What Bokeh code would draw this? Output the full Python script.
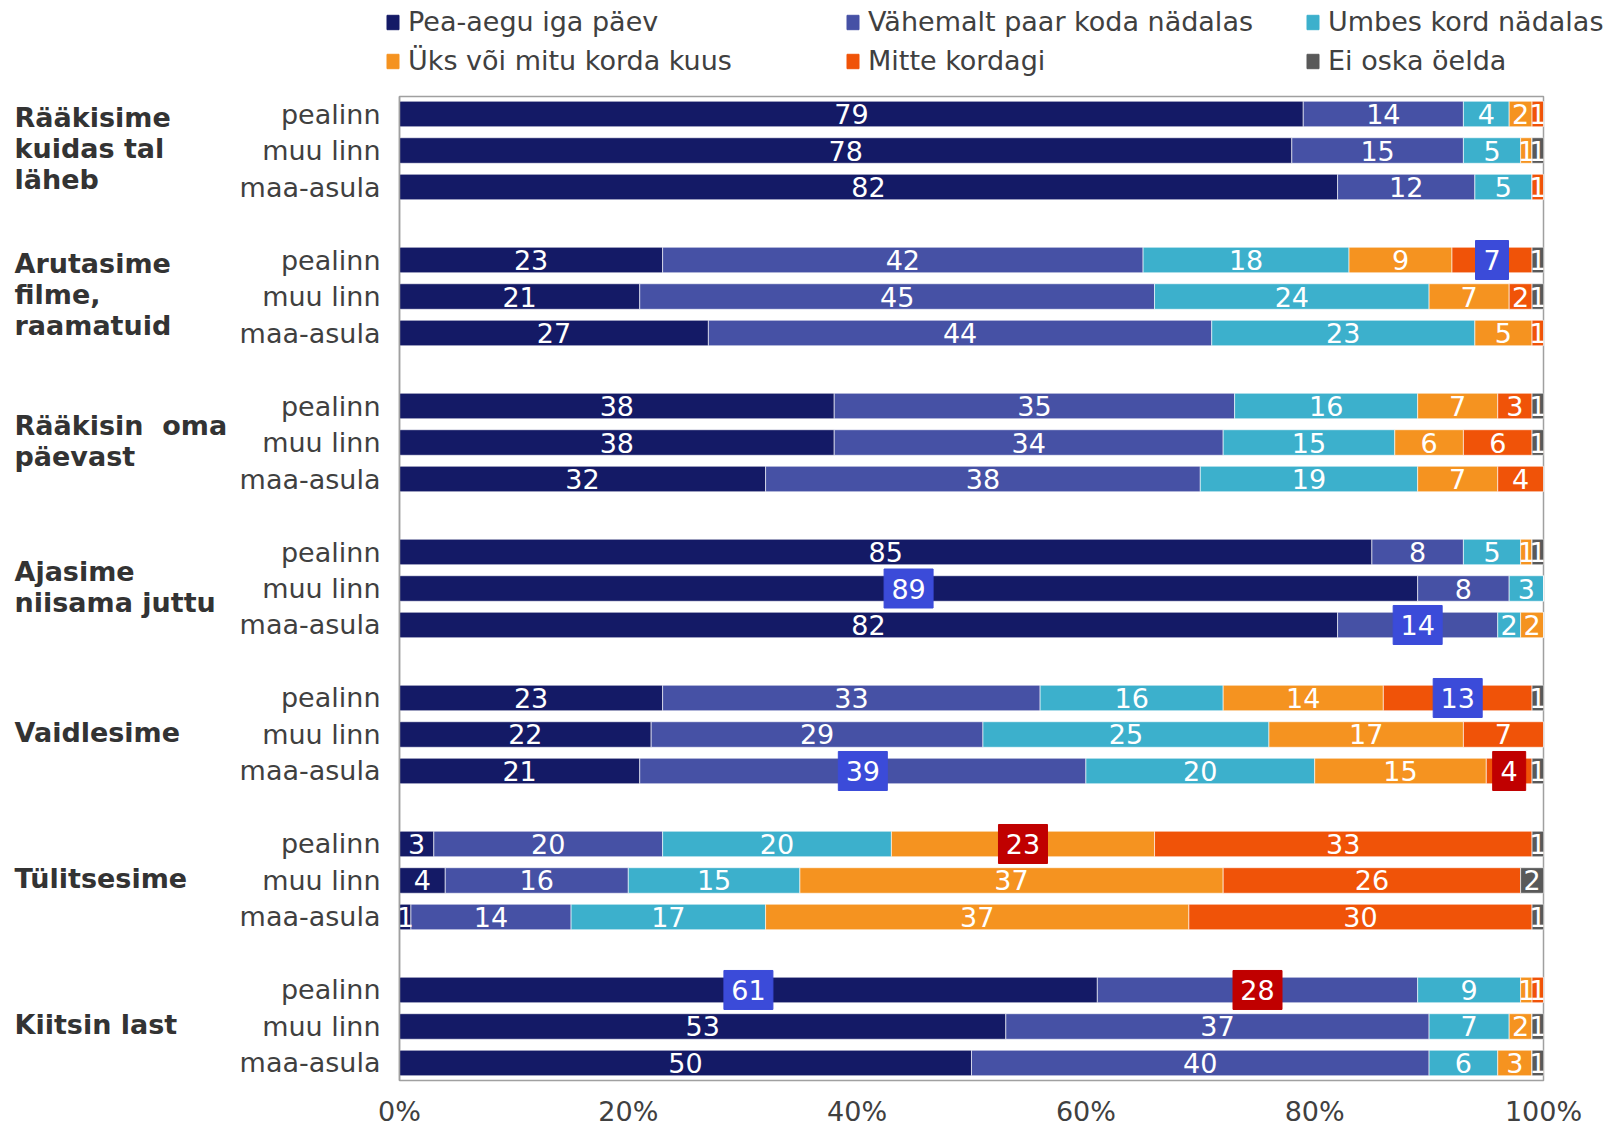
from bokeh.plotting import figure
from bokeh.layouts import row, column
from bokeh.models import (ColumnDataSource, Range1d, FixedTicker, Legend, LegendItem,
                          PrintfTickFormatter)
from bokeh.core.properties import value
from bokeh.embed import file_html
from bokeh.resources import INLINE

FONT = "DejaVu Sans"
FS = "27px"

groups = ["Rääkisime\nkuidas tal\nläheb", "Arutasime\nfilme,\nraamatuid",
          "Rääkisin\u00a0 oma\npäevast", "Ajasime\nniisama juttu", "Vaidlesime",
          "Tülitsesime", "Kiitsin last"]
places = ["pealinn", "muu linn", "maa-asula"]
series = ["Pea-aegu iga päev", "Vähemalt paar koda nädalas", "Umbes kord nädalas",
          "Üks või mitu korda kuus", "Mitte kordagi", "Ei oska öelda"]
colors = ["#141a66", "#4651a5", "#3cb0cc", "#f59320", "#f05308", "#595959"]

# rows: each group x (pealinn, muu linn, maa-asula)
pea   = [79, 78, 82, 23, 21, 27, 38, 38, 32, 85, 89, 82, 23, 22, 21, 3, 4, 1, 61, 53, 50]
vah   = [14, 15, 12, 42, 45, 44, 35, 34, 38, 8, 8, 14, 33, 29, 39, 20, 16, 14, 28, 37, 40]
umb   = [4, 5, 5, 18, 24, 23, 16, 15, 19, 5, 3, 2, 16, 25, 20, 20, 15, 17, 9, 7, 6]
uks   = [2, 1, 0, 9, 7, 5, 7, 6, 7, 1, 0, 2, 14, 17, 15, 23, 37, 37, 1, 2, 3]
mitte = [1, 0, 1, 7, 2, 1, 3, 6, 4, 0, 0, 0, 13, 7, 4, 33, 26, 30, 1, 0, 0]
ei    = [0, 1, 0, 1, 1, 0, 1, 1, 0, 1, 0, 0, 1, 0, 1, 1, 2, 1, 0, 1, 1]

# highlighted value labels: row index, series index, box colour
hl_rows   = [3, 10, 11, 12, 14, 14, 15, 18, 18]
hl_series = [4, 0, 1, 4, 1, 4, 3, 0, 1]
hl_colors = ["#3b4bd9", "#3b4bd9", "#3b4bd9", "#3b4bd9", "#3b4bd9", "#c00000",
             "#c00000", "#3b4bd9", "#c00000"]

data_cols = [pea, vah, umb, uks, mitte, ei]
keys = ["s0", "s1", "s2", "s3", "s4", "s5"]
n = len(pea)
ys = [(i // 3) * 4 + i % 3 for i in range(n)]

src = ColumnDataSource(dict(y=ys, **{k: c for k, c in zip(keys, data_cols)}))

LEGH = 80
H = 1132 - LEGH
TOP = 96 - LEGH
BOT = 52
LEFTW = 236
W = 1600
yr = Range1d(26.48, -0.48)

p = figure(width=W - LEFTW, height=H, output_backend="svg", toolbar_location=None,
           x_range=Range1d(0, 100), y_range=yr,
           min_border_left=399 - LEFTW, min_border_right=57, min_border_top=TOP,
           min_border_bottom=BOT)
p.outline_line_color = "#a0a0a0"
p.outline_line_width = 1.5
p.xgrid.visible = False
p.ygrid.visible = False

rends = p.hbar_stack(keys, y="y", height=0.7, color=colors, source=src,
                     line_color="white", line_width=1, line_alpha=0.6)

# value labels
lx, ly, lt = [], [], []
for i in range(n):
    cum = 0
    for s in range(6):
        v = data_cols[s][i]
        if v > 0:
            lx.append(cum + v / 2)
            ly.append(ys[i])
            lt.append(str(v))
        cum += v

# highlight boxes
hx, hy, hw = [], [], []
for r, s in zip(hl_rows, hl_series):
    start = sum(data_cols[k][r] for k in range(s))
    v = data_cols[s][r]
    hx.append(start + v / 2)
    hy.append(ys[r])
    hw.append(17 + 16 * len(str(v)))
p.rect(x=hx, y=hy, width=hw, height=[39] * len(hx), width_units="screen",
       height_units="screen", color=hl_colors)

p.text(x=lx, y=ly, text=lt, text_color="white", text_font=value(FONT),
       text_font_size=FS, text_align="center", text_baseline="middle")

# axes
p.yaxis.ticker = FixedTicker(ticks=ys)
p.yaxis.major_label_overrides = {y: places[i % 3] for i, y in enumerate(ys)}
p.yaxis.major_label_text_font = FONT
p.yaxis.major_label_text_font_size = FS
p.yaxis.major_label_text_color = "#404040"
p.yaxis.major_tick_out = 0
p.yaxis.major_tick_in = 0
p.yaxis.minor_tick_line_color = None
p.yaxis.major_label_standoff = 19
p.yaxis.axis_line_color = "#a0a0a0"
p.yaxis.axis_line_width = 1.5

p.xaxis.ticker = FixedTicker(ticks=[0, 20, 40, 60, 80, 100])
p.xaxis.formatter = PrintfTickFormatter(format="%d%%")
p.xaxis.major_label_text_font = FONT
p.xaxis.major_label_text_font_size = FS
p.xaxis.major_label_text_color = "#404040"
p.xaxis.major_tick_out = 0
p.xaxis.major_tick_in = 0
p.xaxis.minor_tick_line_color = None
p.xaxis.axis_line_color = None
p.xaxis.major_label_standoff = 15

# group label panel sharing the y range
g = figure(width=LEFTW, height=H, output_backend="svg", toolbar_location=None,
           x_range=Range1d(0, LEFTW), y_range=yr,
           min_border_left=0, min_border_right=0, min_border_top=TOP,
           min_border_bottom=BOT)
g.axis.visible = False
g.grid.visible = False
g.outline_line_color = None
g.text(x=[14] * len(groups), y=[k * 4 + 1 for k in range(len(groups))], text=groups,
       text_font=value(FONT), text_font_size=FS, text_font_style="bold",
       text_color="#333333", text_align="left", text_baseline="middle",
       text_line_height=1.0, y_offset=-2)

# legend strip
lg = figure(width=1607, height=LEGH, output_backend="svg", toolbar_location=None,
            x_range=Range1d(0, 1), y_range=Range1d(0, 1),
            min_border_left=0, min_border_right=0, min_border_top=0,
            min_border_bottom=0)
lg.axis.visible = False
lg.grid.visible = False
lg.outline_line_color = None
lrs = [lg.vbar(x=[-5], top=[0], width=0.1, color=c) for c in colors]
legend = Legend(items=[LegendItem(label=s, renderers=[r]) for s, r in zip(series, lrs)],
                orientation="horizontal", ncols=3, location=(385, 0),
                glyph_width=15, glyph_height=18, label_standoff=8,
                label_width=437, label_height=39, spacing=0, padding=0, margin=0,
                border_line_color=None, background_fill_alpha=0,
                label_text_font=FONT, label_text_font_size=FS,
                label_text_color="#404040")
lg.add_layout(legend, "center")

layout = column(lg, row(g, p))
open("out.html", "w").write(file_html(layout, INLINE))
